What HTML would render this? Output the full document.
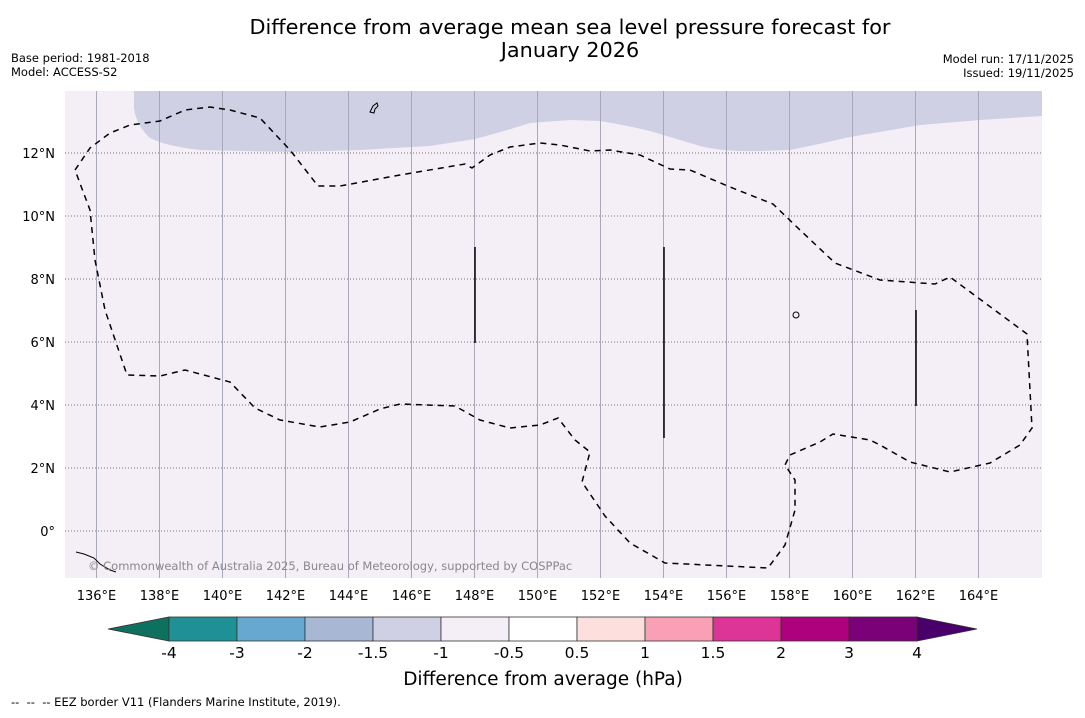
<!DOCTYPE html>
<html><head><meta charset="utf-8"><style>
body{margin:0;background:#fff;font-family:"Liberation Sans","DejaVu Sans",sans-serif;}
svg text{font-family:"DejaVu Sans","Liberation Sans",sans-serif;}
</style></head><body>
<svg id="c" width="1085" height="713" xmlns="http://www.w3.org/2000/svg">
<text x="570" y="34" font-size="20.8" text-anchor="middle">Difference from average mean sea level pressure forecast for</text>
<text x="570" y="57" font-size="20.8" text-anchor="middle">January 2026</text>
<text x="11" y="62" font-size="11.5">Base period: 1981-2018</text>
<text x="11" y="76" font-size="11.5">Model: ACCESS-S2</text>
<text x="1074" y="63" font-size="11.5" text-anchor="end">Model run: 17/11/2025</text>
<text x="1074" y="77" font-size="11.5" text-anchor="end">Issued: 19/11/2025</text>
<g id="map">
<rect x="65" y="91" width="977" height="487" fill="#f4eef6"/>
<path d="M134,91 L134,108 Q136,125 150,138 Q165,146 200,150 L290,152 L360,150 L430,146 L475,139 Q505,131 530,123 L570,120 L600,121 Q625,125 650,131 Q680,140 700,146 Q725,152 760,151 L790,150 Q820,144 850,137 L920,125 L980,120 L1042,116 L1042,91 Z" fill="#d0d0e4"/>
<g id="grid"></g>
<path d="M75,170 L90,148 L110,133 L130,125 L160,121 L185,110 L210,107 L230,110 L260,118 L290,150 L318,186 L340,186 L400,175 L465,164 L472,168 L490,155 L510,147 L540,143 L560,145 L590,151 L610,150 L640,155 L670,169 L690,170 L730,187 L773,204 L800,230 L835,263 L880,280 L935,284 L950,277 L1027,334 L1032,428 L1020,445 L990,463 L950,472 L910,462 L880,445 L870,440 L833,434 L820,442 L790,455 L785,465 L795,480 L795,510 L785,545 L768,568 L665,563 L630,543 L605,516 L582,482 L590,452 L575,440 L558,418 L540,425 L510,428 L480,420 L455,406 L400,404 L380,409 L350,422 L320,427 L280,420 L255,408 L230,382 L185,370 L160,376 L127,375 L105,310 L95,260 L90,210 Z" fill="none" stroke="#000" stroke-width="1.5" stroke-dasharray="6,5"/>
<line x1="475" y1="247" x2="475" y2="343" stroke="#000" stroke-width="1.5"/>
<line x1="664" y1="247" x2="664" y2="438" stroke="#000" stroke-width="1.5"/>
<line x1="916" y1="310" x2="916" y2="406" stroke="#000" stroke-width="1.5"/>
<path d="M370,112 l3,-6 l4,-3 l1,3 l-3,3 l-1,4 z" fill="none" stroke="#000"/>
<ellipse cx="796" cy="315" rx="3" ry="3" fill="none" stroke="#000"/>
<path d="M76,552 l8,2 l10,4 l6,6 l10,6 l6,2" fill="none" stroke="#000"/>
<text x="88" y="570" font-size="11.5" fill="#888">© Commonwealth of Australia 2025, Bureau of Meteorology, supported by COSPPac</text>
</g>
<g id="xt"></g><g id="yt"></g>
<g id="cb"></g>
<text x="543" y="685" font-size="18.5" text-anchor="middle">Difference from average (hPa)</text>
<text x="11" y="706" font-size="11.5" xml:space="preserve" style="white-space:pre">--  --  -- EEZ border V11 (Flanders Marine Institute, 2019).</text>
</svg>
<script>
const lonTicks=[136,138,140,142,144,146,148,150,152,154,156,158,160,162,164];
const latTicks=[0,2,4,6,8,10,12];
const cbBounds=["-4","-3","-2","-1.5","-1","-0.5","0.5","1","1.5","2","3","4"];
const cbColors=["#1f9196","#66a8d0","#a8b8d4","#d0d0e4","#f4eef6","#ffffff","#fde0dd","#f99fb6","#dd3497","#ae017e","#7a0177"];
const extLow="#0e705f", extHigh="#49006a";
const NS="http://www.w3.org/2000/svg";
const xS=lon=>65+(lon-135)*31.5;
const yS=lat=>531-lat*31.5;
function mk(tag,attrs,parent){const e=document.createElementNS(NS,tag);for(const k in attrs)e.setAttribute(k,attrs[k]);parent.appendChild(e);return e;}
const grid=document.getElementById('grid'),xt=document.getElementById('xt'),yt=document.getElementById('yt'),cb=document.getElementById('cb');
lonTicks.forEach(l=>{
 const g=mk('line',{x1:xS(l),x2:xS(l),y1:91,y2:578,stroke:"#a8a8b8","stroke-width":1},grid);
 
 
 const t=mk('text',{x:xS(l),y:600,"font-size":13,"text-anchor":"middle"},xt);t.textContent=l+"°E";
 
 
});
latTicks.forEach(l=>{
 const g=mk('line',{x1:65,x2:1042,y1:yS(l),y2:yS(l),stroke:"#777","stroke-width":1,"stroke-dasharray":"1,2"},grid);
 
 
 const t=mk('text',{x:55,y:yS(l)+5,"font-size":13,"text-anchor":"end"},yt);t.textContent=(l===0?"0°":l+"°N");
 
 
});
const cx0=169,cw=68,cy=617,ch=24;
const lt=mk('polygon',{points:`${cx0},${cy} ${cx0},${cy+ch} 108,${cy+ch/2}`,fill:extLow,stroke:"#333","stroke-width":0.8},cb);


cbColors.forEach((c,i)=>{
 const r=mk('rect',{x:cx0+i*cw,y:cy,width:cw,height:ch,fill:c,stroke:"#333","stroke-width":0.8},cb);
 
 
});
const xe=cx0+cbColors.length*cw;
const rt=mk('polygon',{points:`${xe},${cy} ${xe},${cy+ch} ${xe+60},${cy+ch/2}`,fill:extHigh,stroke:"#333","stroke-width":0.8},cb);


cbBounds.forEach((b,i)=>{
 const t=mk('text',{x:cx0+i*cw,y:658,"font-size":15.5,"text-anchor":"middle"},cb);t.textContent=b;
 
 
});
</script>
</body></html>
